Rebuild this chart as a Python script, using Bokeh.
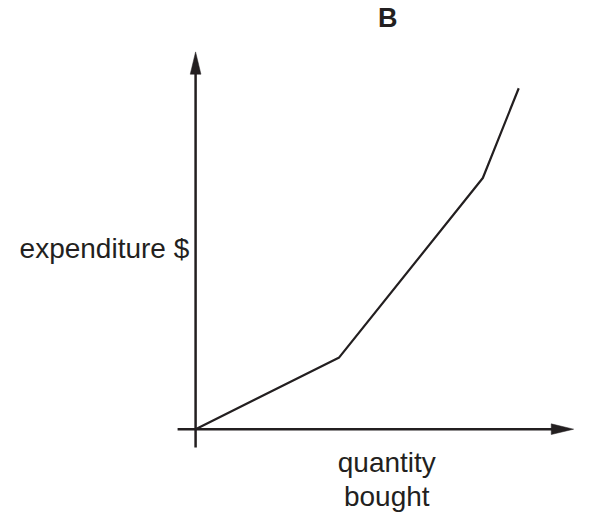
from bokeh.plotting import figure
from bokeh.models import Range1d, ColumnDataSource
from bokeh.core.properties import value
from bokeh.embed import file_html
from bokeh.resources import INLINE

# ---- data ----
quantity = [0, 4, 8, 9]
expenditure = [0, 2, 7, 9.5]
title_text = "B"
y_label = "expenditure $"
x_label_lines = ["quantity", "bought"]

INK = "#231f20"
FONT = "Liberation Sans"

W, H = 577, 515            # figure size (fits the 593x531 window with 8px margin)
REF_W, REF_H = 593, 531    # reference picture size
# reference-pixel to data conversions
OX, OY = 200.5, 442.0      # reference position of the origin
SX, SY = 36.9, 37.0        # reference pixels per data unit
TXT_SHIFT = 11             # correction for bokeh's baseline placement


def dx(ref_x):
    return (ref_x - OX) / SX


def dy(ref_y):
    return (OY - ref_y) / SY


p = figure(width=W, height=H, output_backend="svg", toolbar_location=None,
           x_range=Range1d(dx(0), dx(REF_W)), y_range=Range1d(dy(REF_H), dy(0)),
           min_border=0)
p.axis.visible = False
p.grid.visible = False
p.outline_line_color = None
p.background_fill_color = "white"
p.border_fill_color = "white"

# axes with arrow heads
p.line([dx(OX), dx(OX)], [dy(461), dy(74)], line_color=INK, line_width=2.5)
p.patch([dx(OX - 5.5), dx(OX + 5.5), dx(OX)], [dy(76), dy(76), dy(53)],
        fill_color=INK, line_color=INK, line_width=0.5)
p.line([dx(182), dx(568)], [dy(OY), dy(OY)], line_color=INK, line_width=2.5)
p.patch([dx(566), dx(566), dx(589)], [dy(OY - 5.5), dy(OY + 5.5), dy(OY)],
        fill_color=INK, line_color=INK, line_width=0.5)

# the expenditure schedule
src = ColumnDataSource(dict(q=quantity, e=expenditure))
p.line("q", "e", source=src, line_color=INK, line_width=2.2)

# texts
p.text(x=[dx(398)], y=[dy(29 - TXT_SHIFT)], text=[title_text], text_font=value(FONT),
       text_font_size=value("27px"), text_font_style="bold", text_color=INK,
       text_align="center", text_baseline="alphabetic")
p.text(x=[dx(194)], y=[dy(267 - TXT_SHIFT)], text=[y_label], text_font=value(FONT),
       text_font_size=value("28px"), text_color=INK,
       text_align="right", text_baseline="alphabetic")
p.text(x=[dx(397), dx(397)], y=[dy(487 - TXT_SHIFT), dy(522 - TXT_SHIFT)],
       text=x_label_lines,
       text_font=value(FONT), text_font_size=value("28px"), text_color=INK,
       text_align="center", text_baseline="alphabetic")

open("out.html", "w").write(file_html(p, INLINE))
